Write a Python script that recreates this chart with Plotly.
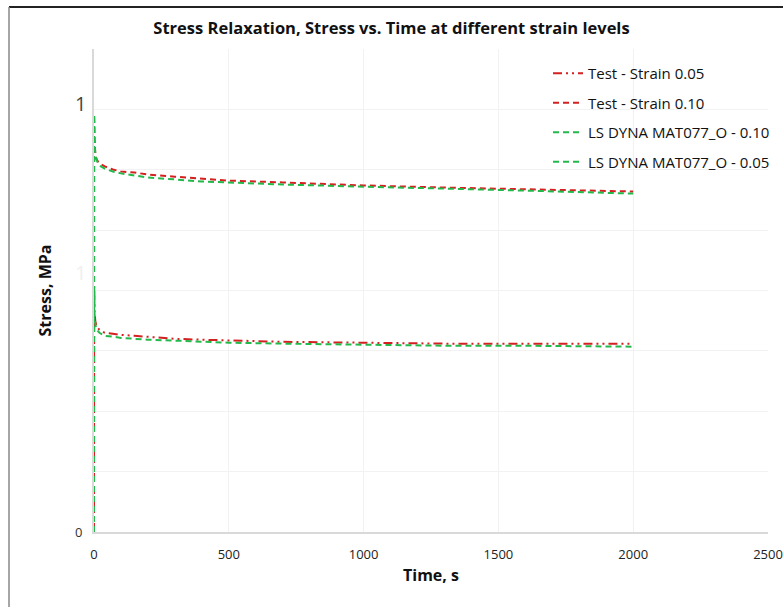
import plotly.graph_objects as go

time_s = [0, 0.5, 2, 5, 10, 20, 40, 70, 100, 150, 200, 300, 400, 500, 700, 1000, 1300, 1600, 2000]
test_005 = [0, 0.813, 0.730, 0.697, 0.680, 0.670, 0.660, 0.657, 0.653, 0.650, 0.647, 0.640, 0.637, 0.634, 0.630, 0.627, 0.624, 0.624, 0.624]
test_010 = [0, 1.383, 1.300, 1.250, 1.234, 1.221, 1.211, 1.201, 1.194, 1.191, 1.184, 1.177, 1.171, 1.164, 1.158, 1.148, 1.141, 1.135, 1.128]
dyna_010 = [0, 1.383, 1.300, 1.247, 1.231, 1.214, 1.204, 1.194, 1.188, 1.181, 1.174, 1.168, 1.161, 1.158, 1.151, 1.144, 1.138, 1.131, 1.121]
dyna_005 = [0, 0.813, 0.720, 0.687, 0.670, 0.660, 0.650, 0.647, 0.643, 0.640, 0.637, 0.634, 0.630, 0.627, 0.624, 0.620, 0.617, 0.617, 0.614]

y_grid = [0, 0.2, 0.4, 0.6, 0.8, 1.0, 1.2, 1.4, 1.6]
x_ticks = [0, 500, 1000, 1500, 2000, 2500]

RED = "#d42020"
GREEN = "#22b84a"

fig = go.Figure()
fig.add_trace(go.Scatter(x=time_s, y=test_005, mode="lines", name="Test - Strain 0.05", legendgroup="a",
                         line=dict(color=RED, width=2, dash="9px,4px,2px,4px,2px,4px")))
fig.add_trace(go.Scatter(x=time_s, y=test_010, mode="lines", name="Test - Strain 0.10", legendgroup="b",
                         line=dict(color=RED, width=2, dash="6px,4px")))
fig.add_trace(go.Scatter(x=time_s, y=dyna_010, mode="lines", name="LS DYNA MAT077_O - 0.10", legendgroup="c",
                         line=dict(color=GREEN, width=2, dash="6px,4px")))
fig.add_trace(go.Scatter(x=time_s, y=dyna_005, mode="lines", name="LS DYNA MAT077_O - 0.05", legendgroup="d",
                         line=dict(color=GREEN, width=2, dash="6px,4px")))

FONT = "Open Sans"

fig.update_layout(
    width=783, height=607,
    margin=dict(l=94, r=15, t=49, b=75, autoexpand=False),
    paper_bgcolor="white", plot_bgcolor="white",
    font=dict(family=FONT, color="#222222"),
    title=dict(text="<b>Stress Relaxation, Stress vs. Time at different strain levels</b>",
               x=0.5, xanchor="center", y=1 - 28 / 607, yanchor="middle",
               font=dict(family=FONT, size=16.5, color="#111111")),
    showlegend=True,
    legend=dict(x=(548 - 94) / 674, y=1 - 8 / 483, xanchor="left", yanchor="top",
                bgcolor="rgba(0,0,0,0)", font=dict(family=FONT, size=15, color="#111111"),
                tracegroupgap=7, itemwidth=30),
    xaxis=dict(range=[0, 2500], tickvals=x_ticks, ticktext=[str(v) for v in x_ticks],
               showgrid=True, gridcolor="#f2f2f2", gridwidth=1, automargin=False,
               showline=True, linecolor="#d9d9d9", linewidth=2,
               zeroline=False, ticks="", ticklabelstandoff=9,
               tickfont=dict(family=FONT, size=13, color="#222222"),
               title=dict(text="<b>Time, s</b>", font=dict(family=FONT, size=16, color="#111111"),
                          standoff=8)),
    yaxis=dict(range=[0, 1.6], tickvals=y_grid, showticklabels=False, automargin=False,
               showgrid=True, gridcolor="#f2f2f2", gridwidth=1,
               showline=True, linecolor="#d9d9d9", linewidth=2,
               zeroline=False, ticks="",
               title=dict(text="<b>Stress, MPa</b>", font=dict(family=FONT, size=16, color="#111111"),
                          standoff=36)),
)

# y tick labels as seen in reference
fig.add_annotation(x=0, y=0, xref="paper", yref="y", text="0", showarrow=False,
                   xanchor="right", xshift=-10, font=dict(family=FONT, size=13, color="#333333"))
fig.add_annotation(x=0, y=1.4, xref="paper", yref="y", text="1", showarrow=False,
                   xanchor="right", xshift=-6, yshift=6, font=dict(family=FONT, size=20, color="#444444"))
fig.add_annotation(x=0, y=0.8, xref="paper", yref="y", text="1", showarrow=False,
                   xanchor="right", xshift=-6, yshift=18, font=dict(family=FONT, size=20, color="#f0f0f0"))

# outer chart frame
fig.add_shape(type="line", xref="paper", yref="paper", x0=-85 / 674, x1=689 / 674,
              y0=525 / 483, y1=525 / 483, line=dict(color="#222222", width=2))
fig.add_shape(type="line", xref="paper", yref="paper", x0=-85 / 674, x1=-85 / 674,
              y0=525 / 483, y1=-80 / 483, line=dict(color="#888888", width=1.5))

fig.write_html("out.html")
